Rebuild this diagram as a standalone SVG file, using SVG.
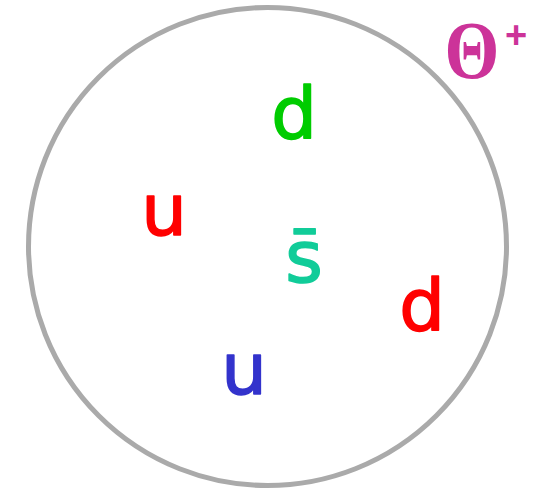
<svg xmlns="http://www.w3.org/2000/svg" width="534" height="489" viewBox="0 0 534 489">
<style>
.q{font-family:"DejaVu Sans","Liberation Sans",sans-serif;font-size:72px;text-anchor:middle;stroke-width:1.6;stroke-linejoin:round}
</style>
<rect width="534" height="489" fill="#ffffff"/>
<g id="hadron"><circle cx="267.5" cy="246.5" r="239" fill="none" stroke="#aaaaaa" stroke-width="5"/></g>
<g id="label">
<text transform="translate(472,78) scale(0.86,1)" font-family="'Liberation Serif',serif" font-weight="bold" font-size="82" fill="#cc3399" text-anchor="middle">Θ</text>
<text x="516" y="48" font-family="'Liberation Sans',sans-serif" font-weight="bold" font-size="38" fill="#cc3399" text-anchor="middle">+</text>
</g>
<g id="d-green"><text class="q" x="294" y="138" fill="#00cc00" stroke="#00cc00">d</text></g>
<g id="u-red"><text class="q" x="164" y="235" fill="#ff0000" stroke="#ff0000">u</text></g>
<g id="sbar"><text class="q" x="304" y="282" fill="#11cc99" stroke="#11cc99">s̄</text></g>
<g id="d-red"><text class="q" x="422" y="330" fill="#ff0000" stroke="#ff0000">d</text></g>
<g id="u-blue"><text class="q" x="244" y="394" fill="#3333cc" stroke="#3333cc">u</text></g>
<g id="connectors"></g>
</svg>
